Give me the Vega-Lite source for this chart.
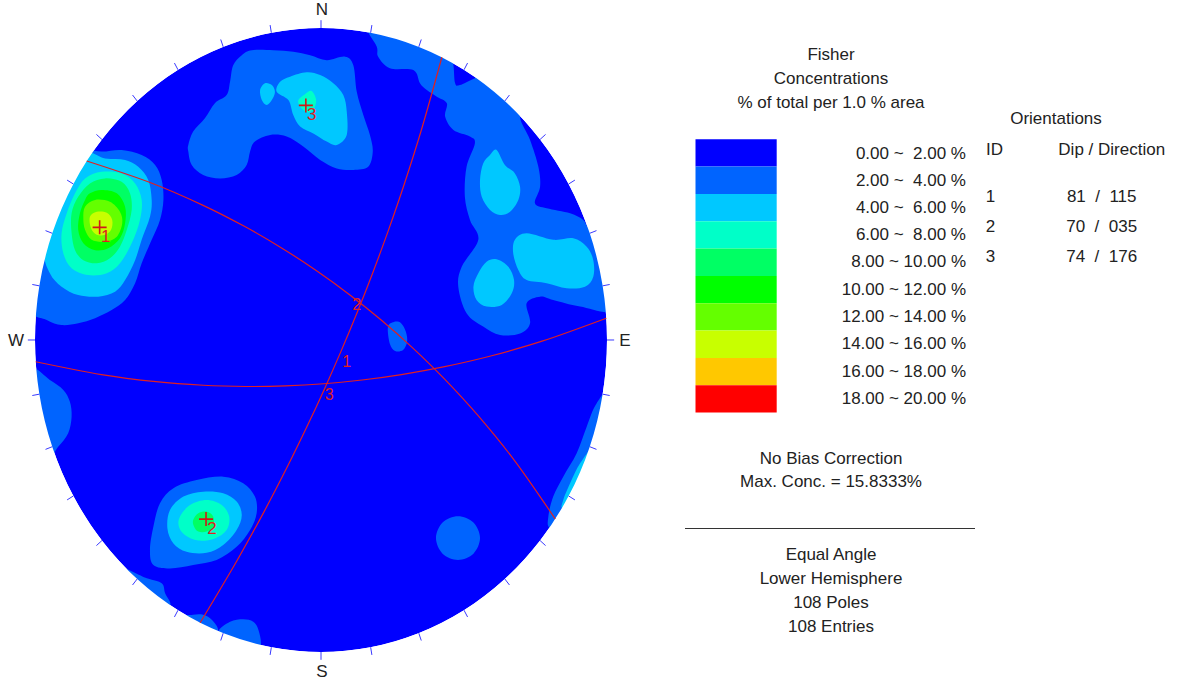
{
"$schema": "https://vega.github.io/schema/vega-lite/v6.json",
"padding": 0,
"background": "white",
"spacing": 0,
"config": {"view": {"stroke": null}, "text": {"font": "Liberation Sans"}},
"resolve": {"scale": {"x": "independent", "y": "independent", "fill": "independent"}},
"datasets": {
"rim": [
{"a":0,"x":0,"y":1,"x2":0,"y2":1.025},
{"a":10,"x":0.1736,"y":0.9848,"x2":0.1779,"y2":1.0094},
{"a":20,"x":0.342,"y":0.9397,"x2":0.3506,"y2":0.9632},
{"a":30,"x":0.5,"y":0.866,"x2":0.5125,"y2":0.8877},
{"a":40,"x":0.6428,"y":0.766,"x2":0.6589,"y2":0.7852},
{"a":50,"x":0.766,"y":0.6428,"x2":0.7852,"y2":0.6589},
{"a":60,"x":0.866,"y":0.5,"x2":0.8877,"y2":0.5125},
{"a":70,"x":0.9397,"y":0.342,"x2":0.9632,"y2":0.3506},
{"a":80,"x":0.9848,"y":0.1736,"x2":1.0094,"y2":0.1779},
{"a":90,"x":1,"y":0,"x2":1.025,"y2":0},
{"a":100,"x":0.9848,"y":-0.1736,"x2":1.0094,"y2":-0.1779},
{"a":110,"x":0.9397,"y":-0.342,"x2":0.9632,"y2":-0.3506},
{"a":120,"x":0.866,"y":-0.5,"x2":0.8877,"y2":-0.5125},
{"a":130,"x":0.766,"y":-0.6428,"x2":0.7852,"y2":-0.6589},
{"a":140,"x":0.6428,"y":-0.766,"x2":0.6589,"y2":-0.7852},
{"a":150,"x":0.5,"y":-0.866,"x2":0.5125,"y2":-0.8877},
{"a":160,"x":0.342,"y":-0.9397,"x2":0.3506,"y2":-0.9632},
{"a":170,"x":0.1736,"y":-0.9848,"x2":0.1779,"y2":-1.0094},
{"a":180,"x":0,"y":-1,"x2":0,"y2":-1.025},
{"a":190,"x":-0.1736,"y":-0.9848,"x2":-0.1779,"y2":-1.0094},
{"a":200,"x":-0.342,"y":-0.9397,"x2":-0.3506,"y2":-0.9632},
{"a":210,"x":-0.5,"y":-0.866,"x2":-0.5125,"y2":-0.8877},
{"a":220,"x":-0.6428,"y":-0.766,"x2":-0.6589,"y2":-0.7852},
{"a":230,"x":-0.766,"y":-0.6428,"x2":-0.7852,"y2":-0.6589},
{"a":240,"x":-0.866,"y":-0.5,"x2":-0.8877,"y2":-0.5125},
{"a":250,"x":-0.9397,"y":-0.342,"x2":-0.9632,"y2":-0.3506},
{"a":260,"x":-0.9848,"y":-0.1736,"x2":-1.0094,"y2":-0.1779},
{"a":270,"x":-1,"y":0,"x2":-1.025,"y2":0},
{"a":280,"x":-0.9848,"y":0.1736,"x2":-1.0094,"y2":0.1779},
{"a":290,"x":-0.9397,"y":0.342,"x2":-0.9632,"y2":0.3506},
{"a":300,"x":-0.866,"y":0.5,"x2":-0.8877,"y2":0.5125},
{"a":310,"x":-0.766,"y":0.6428,"x2":-0.7852,"y2":0.6589},
{"a":320,"x":-0.6428,"y":0.766,"x2":-0.6589,"y2":0.7852},
{"a":330,"x":-0.5,"y":0.866,"x2":-0.5125,"y2":0.8877},
{"a":340,"x":-0.342,"y":0.9397,"x2":-0.3506,"y2":0.9632},
{"a":350,"x":-0.1736,"y":0.9848,"x2":-0.1779,"y2":1.0094}
],
"mask": [
{"a":0,"x":0,"y":1.0641},{"a":10,"x":0.1857,"y":1.0479},{"a":20,"x":0.3659,"y":0.9999},{"a":30,"x":0.535,"y":0.9215},
{"a":40,"x":0.6877,"y":0.8151},{"a":50,"x":0.8195,"y":0.684},{"a":60,"x":0.9265,"y":0.5321},{"a":70,"x":1.0054,"y":0.3639},
{"a":80,"x":1.0536,"y":0.1847},{"a":90,"x":1.0699,"y":0},{"a":100,"x":1.0536,"y":-0.1847},{"a":110,"x":1.0054,"y":-0.3639},
{"a":120,"x":0.9265,"y":-0.5321},{"a":130,"x":0.8195,"y":-0.684},{"a":140,"x":0.6877,"y":-0.8151},{"a":150,"x":0.535,"y":-0.9215},
{"a":160,"x":0.3659,"y":-0.9999},{"a":170,"x":0.1857,"y":-1.0479},{"a":180,"x":0,"y":-1.0641},{"a":190,"x":-0.1857,"y":-1.0479},
{"a":200,"x":-0.3659,"y":-0.9999},{"a":210,"x":-0.535,"y":-0.9215},{"a":220,"x":-0.6877,"y":-0.8151},{"a":230,"x":-0.8195,"y":-0.684},
{"a":240,"x":-0.9265,"y":-0.5321},{"a":250,"x":-1.0054,"y":-0.3639},{"a":260,"x":-1.0536,"y":-0.1847},{"a":270,"x":-1.0699,"y":0},
{"a":280,"x":-1.0536,"y":0.1847},{"a":290,"x":-1.0054,"y":0.3639},{"a":300,"x":-0.9265,"y":0.5321},{"a":310,"x":-0.8195,"y":0.684},
{"a":320,"x":-0.6877,"y":0.8151},{"a":330,"x":-0.535,"y":0.9215},{"a":340,"x":-0.3659,"y":0.9999},{"a":350,"x":-0.1857,"y":1.0479}
],
"cont": [
{"p":"n1","l":1,"i":0,"x":-0.464,"y":0.625},{"p":"n1","l":1,"i":1,"x":-0.447,"y":0.668},{"p":"n1","l":1,"i":2,"x":-0.406,"y":0.711},
{"p":"n1","l":1,"i":3,"x":-0.371,"y":0.759},{"p":"n1","l":1,"i":4,"x":-0.33,"y":0.785},{"p":"n1","l":1,"i":5,"x":-0.318,"y":0.828},
{"p":"n1","l":1,"i":6,"x":-0.307,"y":0.881},{"p":"n1","l":1,"i":7,"x":-0.277,"y":0.913},{"p":"n1","l":1,"i":8,"x":-0.242,"y":0.929},
{"p":"n1","l":1,"i":9,"x":-0.167,"y":0.929},{"p":"n1","l":1,"i":10,"x":-0.097,"y":0.924},{"p":"n1","l":1,"i":11,"x":-0.038,"y":0.913},
{"p":"n1","l":1,"i":12,"x":0.02,"y":0.897},{"p":"n1","l":1,"i":13,"x":0.084,"y":0.908},{"p":"n1","l":1,"i":14,"x":0.113,"y":0.881},
{"p":"n1","l":1,"i":15,"x":0.125,"y":0.796},{"p":"n1","l":1,"i":16,"x":0.148,"y":0.721},{"p":"n1","l":1,"i":17,"x":0.171,"y":0.657},
{"p":"n1","l":1,"i":18,"x":0.181,"y":0.604},{"p":"n1","l":1,"i":19,"x":0.165,"y":0.555},{"p":"n1","l":1,"i":20,"x":0.113,"y":0.545},
{"p":"n1","l":1,"i":21,"x":0.055,"y":0.55},{"p":"n1","l":1,"i":22,"x":-0.003,"y":0.577},{"p":"n1","l":1,"i":23,"x":-0.062,"y":0.62},
{"p":"n1","l":1,"i":24,"x":-0.12,"y":0.652},{"p":"n1","l":1,"i":25,"x":-0.178,"y":0.657},{"p":"n1","l":1,"i":26,"x":-0.231,"y":0.636},
{"p":"n1","l":1,"i":27,"x":-0.248,"y":0.604},{"p":"n1","l":1,"i":28,"x":-0.26,"y":0.561},{"p":"n1","l":1,"i":29,"x":-0.295,"y":0.529},
{"p":"n1","l":1,"i":30,"x":-0.353,"y":0.518},{"p":"n1","l":1,"i":31,"x":-0.412,"y":0.529},{"p":"n1","l":1,"i":32,"x":-0.452,"y":0.561},
{"p":"n1","l":1,"i":33,"x":-0.464,"y":0.604},

{"p":"ne1","l":1,"i":0,"x":0.164,"y":1.01},{"p":"ne1","l":1,"i":1,"x":0.195,"y":0.94},{"p":"ne1","l":1,"i":2,"x":0.2,"y":0.908},
{"p":"ne1","l":1,"i":3,"x":0.241,"y":0.871},{"p":"ne1","l":1,"i":4,"x":0.323,"y":0.865},{"p":"ne1","l":1,"i":5,"x":0.346,"y":0.823},
{"p":"ne1","l":1,"i":6,"x":0.37,"y":0.801},{"p":"ne1","l":1,"i":7,"x":0.405,"y":0.78},{"p":"ne1","l":1,"i":8,"x":0.44,"y":0.759},
{"p":"ne1","l":1,"i":9,"x":0.434,"y":0.716},{"p":"ne1","l":1,"i":10,"x":0.463,"y":0.673},{"p":"ne1","l":1,"i":11,"x":0.521,"y":0.652},
{"p":"ne1","l":1,"i":12,"x":0.538,"y":0.63},{"p":"ne1","l":1,"i":13,"x":0.509,"y":0.555},{"p":"ne1","l":1,"i":14,"x":0.503,"y":0.459},
{"p":"ne1","l":1,"i":15,"x":0.521,"y":0.385},{"p":"ne1","l":1,"i":16,"x":0.55,"y":0.321},{"p":"ne1","l":1,"i":17,"x":0.492,"y":0.235},
{"p":"ne1","l":1,"i":18,"x":0.48,"y":0.171},{"p":"ne1","l":1,"i":19,"x":0.509,"y":0.086},{"p":"ne1","l":1,"i":20,"x":0.567,"y":0.043},
{"p":"ne1","l":1,"i":21,"x":0.626,"y":0.016},{"p":"ne1","l":1,"i":22,"x":0.696,"y":0.021},{"p":"ne1","l":1,"i":23,"x":0.731,"y":0.054},
{"p":"ne1","l":1,"i":24,"x":0.719,"y":0.118},{"p":"ne1","l":1,"i":25,"x":0.766,"y":0.139},{"p":"ne1","l":1,"i":26,"x":0.812,"y":0.128},
{"p":"ne1","l":1,"i":27,"x":0.906,"y":0.107},{"p":"ne1","l":1,"i":28,"x":1.028,"y":0.096},{"p":"ne1","l":1,"i":29,"x":1.063,"y":0.224},
{"p":"ne1","l":1,"i":30,"x":0.976,"y":0.369},{"p":"ne1","l":1,"i":31,"x":0.935,"y":0.363},{"p":"ne1","l":1,"i":32,"x":0.917,"y":0.385},
{"p":"ne1","l":1,"i":33,"x":0.871,"y":0.406},{"p":"ne1","l":1,"i":34,"x":0.789,"y":0.422},{"p":"ne1","l":1,"i":35,"x":0.748,"y":0.438},
{"p":"ne1","l":1,"i":36,"x":0.766,"y":0.491},{"p":"ne1","l":1,"i":37,"x":0.76,"y":0.555},{"p":"ne1","l":1,"i":38,"x":0.731,"y":0.641},
{"p":"ne1","l":1,"i":39,"x":0.696,"y":0.716},{"p":"ne1","l":1,"i":40,"x":0.731,"y":0.769},{"p":"ne1","l":1,"i":41,"x":0.608,"y":0.865},
{"p":"ne1","l":1,"i":42,"x":0.538,"y":0.839},{"p":"ne1","l":1,"i":43,"x":0.486,"y":0.817},{"p":"ne1","l":1,"i":44,"x":0.469,"y":0.823},
{"p":"ne1","l":1,"i":45,"x":0.463,"y":0.881},{"p":"ne1","l":1,"i":46,"x":0.451,"y":0.929},{"p":"ne1","l":1,"i":47,"x":0.311,"y":0.994},

{"p":"w1","l":1,"i":0,"x":-0.843,"y":0.609},{"p":"w1","l":1,"i":1,"x":-0.767,"y":0.604},{"p":"w1","l":1,"i":2,"x":-0.697,"y":0.609},
{"p":"w1","l":1,"i":3,"x":-0.627,"y":0.593},{"p":"w1","l":1,"i":4,"x":-0.58,"y":0.561},{"p":"w1","l":1,"i":5,"x":-0.557,"y":0.513},
{"p":"w1","l":1,"i":6,"x":-0.551,"y":0.449},{"p":"w1","l":1,"i":7,"x":-0.563,"y":0.385},{"p":"w1","l":1,"i":8,"x":-0.592,"y":0.321},
{"p":"w1","l":1,"i":9,"x":-0.627,"y":0.246},{"p":"w1","l":1,"i":10,"x":-0.65,"y":0.182},{"p":"w1","l":1,"i":11,"x":-0.685,"y":0.128},
{"p":"w1","l":1,"i":12,"x":-0.732,"y":0.096},{"p":"w1","l":1,"i":13,"x":-0.79,"y":0.07},{"p":"w1","l":1,"i":14,"x":-0.849,"y":0.054},
{"p":"w1","l":1,"i":15,"x":-0.907,"y":0.048},{"p":"w1","l":1,"i":16,"x":-0.959,"y":0.064},{"p":"w1","l":1,"i":17,"x":-1.024,"y":0.112},
{"p":"w1","l":1,"i":18,"x":-1.017,"y":0.353},{"p":"w1","l":1,"i":19,"x":-0.948,"y":0.561},

{"p":"s1","l":1,"i":0,"x":-0.563,"y":-0.523},{"p":"s1","l":1,"i":1,"x":-0.516,"y":-0.475},{"p":"s1","l":1,"i":2,"x":-0.435,"y":-0.449},
{"p":"s1","l":1,"i":3,"x":-0.342,"y":-0.438},{"p":"s1","l":1,"i":4,"x":-0.272,"y":-0.459},{"p":"s1","l":1,"i":5,"x":-0.231,"y":-0.502},
{"p":"s1","l":1,"i":6,"x":-0.225,"y":-0.555},{"p":"s1","l":1,"i":7,"x":-0.248,"y":-0.609},{"p":"s1","l":1,"i":8,"x":-0.295,"y":-0.663},
{"p":"s1","l":1,"i":9,"x":-0.365,"y":-0.705},{"p":"s1","l":1,"i":10,"x":-0.447,"y":-0.721},{"p":"s1","l":1,"i":11,"x":-0.528,"y":-0.732},
{"p":"s1","l":1,"i":12,"x":-0.586,"y":-0.721},{"p":"s1","l":1,"i":13,"x":-0.598,"y":-0.673},{"p":"s1","l":1,"i":14,"x":-0.586,"y":-0.598},

{"p":"sw","l":1,"i":0,"x":-1.017,"y":-0.096},{"p":"sw","l":1,"i":1,"x":-0.948,"y":-0.128},{"p":"sw","l":1,"i":2,"x":-0.901,"y":-0.16},
{"p":"sw","l":1,"i":3,"x":-0.878,"y":-0.198},{"p":"sw","l":1,"i":4,"x":-0.872,"y":-0.246},{"p":"sw","l":1,"i":5,"x":-0.884,"y":-0.299},
{"p":"sw","l":1,"i":6,"x":-0.919,"y":-0.342},{"p":"sw","l":1,"i":7,"x":-0.965,"y":-0.385},{"p":"sw","l":1,"i":8,"x":-1.035,"y":-0.256},

{"p":"bl","l":1,"i":0,"x":-0.71,"y":-0.731},{"p":"bl","l":1,"i":1,"x":-0.609,"y":-0.764},{"p":"bl","l":1,"i":2,"x":-0.557,"y":-0.78},
{"p":"bl","l":1,"i":3,"x":-0.545,"y":-0.812},{"p":"bl","l":1,"i":4,"x":-0.528,"y":-0.853},{"p":"bl","l":1,"i":5,"x":-0.598,"y":-0.865},

{"p":"b1","l":1,"i":0,"x":-0.476,"y":-0.891},{"p":"b1","l":1,"i":1,"x":-0.447,"y":-0.881},{"p":"b1","l":1,"i":2,"x":-0.412,"y":-0.881},
{"p":"b1","l":1,"i":3,"x":-0.382,"y":-0.897},{"p":"b1","l":1,"i":4,"x":-0.36,"y":-0.929},{"p":"b1","l":1,"i":5,"x":-0.388,"y":-0.946},

{"p":"b2","l":1,"i":0,"x":-0.36,"y":-0.939},{"p":"b2","l":1,"i":1,"x":-0.318,"y":-0.903},{"p":"b2","l":1,"i":2,"x":-0.272,"y":-0.895},
{"p":"b2","l":1,"i":3,"x":-0.237,"y":-0.903},{"p":"b2","l":1,"i":4,"x":-0.219,"y":-0.929},{"p":"b2","l":1,"i":5,"x":-0.21,"y":-0.978},
{"p":"b2","l":1,"i":6,"x":-0.231,"y":-1.01},{"p":"b2","l":1,"i":7,"x":-0.318,"y":-0.994},

{"p":"c1","l":1,"i":0,"x":0.234,"y":0.042},{"p":"c1","l":1,"i":1,"x":0.255,"y":0.058},{"p":"c1","l":1,"i":2,"x":0.28,"y":0.054},
{"p":"c1","l":1,"i":3,"x":0.297,"y":0.026},{"p":"c1","l":1,"i":4,"x":0.301,"y":-0.006},{"p":"c1","l":1,"i":5,"x":0.287,"y":-0.032},
{"p":"c1","l":1,"i":6,"x":0.259,"y":-0.035},{"p":"c1","l":1,"i":7,"x":0.241,"y":-0.013},

{"p":"sec","l":1,"i":0,"x":0.556,"y":-0.635},{"p":"sec","l":1,"i":1,"x":0.533,"y":-0.585},{"p":"sec","l":1,"i":2,"x":0.479,"y":-0.565},
{"p":"sec","l":1,"i":3,"x":0.425,"y":-0.585},{"p":"sec","l":1,"i":4,"x":0.402,"y":-0.635},{"p":"sec","l":1,"i":5,"x":0.425,"y":-0.685},
{"p":"sec","l":1,"i":6,"x":0.479,"y":-0.705},{"p":"sec","l":1,"i":7,"x":0.533,"y":-0.685},

{"p":"se1","l":1,"i":0,"x":1.028,"y":-0.144},{"p":"se1","l":1,"i":1,"x":0.964,"y":-0.203},{"p":"se1","l":1,"i":2,"x":0.929,"y":-0.278},
{"p":"se1","l":1,"i":3,"x":0.894,"y":-0.363},{"p":"se1","l":1,"i":4,"x":0.847,"y":-0.438},{"p":"se1","l":1,"i":5,"x":0.812,"y":-0.502},
{"p":"se1","l":1,"i":6,"x":0.795,"y":-0.566},{"p":"se1","l":1,"i":7,"x":0.801,"y":-0.603},{"p":"se1","l":1,"i":8,"x":0.871,"y":-0.609},
{"p":"se1","l":1,"i":9,"x":1.01,"y":-0.353},

{"p":"n2a","l":2,"i":0,"x":-0.143,"y":0.828},{"p":"n2a","l":2,"i":1,"x":-0.108,"y":0.844},{"p":"n2a","l":2,"i":2,"x":-0.05,"y":0.858},
{"p":"n2a","l":2,"i":3,"x":-0.003,"y":0.849},{"p":"n2a","l":2,"i":4,"x":0.043,"y":0.823},{"p":"n2a","l":2,"i":5,"x":0.078,"y":0.785},
{"p":"n2a","l":2,"i":6,"x":0.09,"y":0.732},{"p":"n2a","l":2,"i":7,"x":0.09,"y":0.657},{"p":"n2a","l":2,"i":8,"x":0.055,"y":0.625},
{"p":"n2a","l":2,"i":9,"x":0.02,"y":0.636},{"p":"n2a","l":2,"i":10,"x":-0.027,"y":0.662},{"p":"n2a","l":2,"i":11,"x":-0.073,"y":0.684},
{"p":"n2a","l":2,"i":12,"x":-0.097,"y":0.721},{"p":"n2a","l":2,"i":13,"x":-0.114,"y":0.769},{"p":"n2a","l":2,"i":14,"x":-0.155,"y":0.796},

{"p":"n2b","l":2,"i":0,"x":-0.196,"y":0.823},{"p":"n2b","l":2,"i":1,"x":-0.172,"y":0.817},{"p":"n2b","l":2,"i":2,"x":-0.161,"y":0.795},
{"p":"n2b","l":2,"i":3,"x":-0.172,"y":0.769},{"p":"n2b","l":2,"i":4,"x":-0.19,"y":0.753},{"p":"n2b","l":2,"i":5,"x":-0.207,"y":0.769},
{"p":"n2b","l":2,"i":6,"x":-0.213,"y":0.801},

{"p":"ne2a","l":2,"i":0,"x":0.614,"y":0.609},{"p":"ne2a","l":2,"i":1,"x":0.643,"y":0.561},{"p":"ne2a","l":2,"i":2,"x":0.678,"y":0.534},
{"p":"ne2a","l":2,"i":3,"x":0.696,"y":0.491},{"p":"ne2a","l":2,"i":4,"x":0.69,"y":0.449},{"p":"ne2a","l":2,"i":5,"x":0.661,"y":0.411},
{"p":"ne2a","l":2,"i":6,"x":0.626,"y":0.401},{"p":"ne2a","l":2,"i":7,"x":0.591,"y":0.417},{"p":"ne2a","l":2,"i":8,"x":0.562,"y":0.459},
{"p":"ne2a","l":2,"i":9,"x":0.556,"y":0.513},{"p":"ne2a","l":2,"i":10,"x":0.567,"y":0.566},{"p":"ne2a","l":2,"i":11,"x":0.591,"y":0.593},

{"p":"ne2b","l":2,"i":0,"x":0.678,"y":0.321},{"p":"ne2b","l":2,"i":1,"x":0.719,"y":0.342},{"p":"ne2b","l":2,"i":2,"x":0.812,"y":0.321},
{"p":"ne2b","l":2,"i":3,"x":0.882,"y":0.326},{"p":"ne2b","l":2,"i":4,"x":0.929,"y":0.299},{"p":"ne2b","l":2,"i":5,"x":0.952,"y":0.256},
{"p":"ne2b","l":2,"i":6,"x":0.952,"y":0.203},{"p":"ne2b","l":2,"i":7,"x":0.923,"y":0.171},{"p":"ne2b","l":2,"i":8,"x":0.859,"y":0.166},
{"p":"ne2b","l":2,"i":9,"x":0.789,"y":0.182},{"p":"ne2b","l":2,"i":10,"x":0.719,"y":0.192},{"p":"ne2b","l":2,"i":11,"x":0.69,"y":0.224},
{"p":"ne2b","l":2,"i":12,"x":0.672,"y":0.278},

{"p":"ne2c","l":2,"i":0,"x":0.579,"y":0.251},{"p":"ne2c","l":2,"i":1,"x":0.614,"y":0.259},{"p":"ne2c","l":2,"i":2,"x":0.655,"y":0.235},
{"p":"ne2c","l":2,"i":3,"x":0.675,"y":0.192},{"p":"ne2c","l":2,"i":4,"x":0.667,"y":0.15},{"p":"ne2c","l":2,"i":5,"x":0.632,"y":0.112},
{"p":"ne2c","l":2,"i":6,"x":0.579,"y":0.107},{"p":"ne2c","l":2,"i":7,"x":0.544,"y":0.128},{"p":"ne2c","l":2,"i":8,"x":0.533,"y":0.171},
{"p":"ne2c","l":2,"i":9,"x":0.55,"y":0.214},

{"p":"w2","l":2,"i":0,"x":-0.836,"y":0.593},{"p":"w2","l":2,"i":1,"x":-0.755,"y":0.582},{"p":"w2","l":2,"i":2,"x":-0.685,"y":0.577},
{"p":"w2","l":2,"i":3,"x":-0.639,"y":0.555},{"p":"w2","l":2,"i":4,"x":-0.604,"y":0.513},{"p":"w2","l":2,"i":5,"x":-0.592,"y":0.449},
{"p":"w2","l":2,"i":6,"x":-0.598,"y":0.395},{"p":"w2","l":2,"i":7,"x":-0.627,"y":0.321},{"p":"w2","l":2,"i":8,"x":-0.65,"y":0.256},
{"p":"w2","l":2,"i":9,"x":-0.685,"y":0.192},{"p":"w2","l":2,"i":10,"x":-0.72,"y":0.155},{"p":"w2","l":2,"i":11,"x":-0.779,"y":0.139},
{"p":"w2","l":2,"i":12,"x":-0.849,"y":0.144},{"p":"w2","l":2,"i":13,"x":-0.907,"y":0.171},{"p":"w2","l":2,"i":14,"x":-0.948,"y":0.214},
{"p":"w2","l":2,"i":15,"x":-0.969,"y":0.288},{"p":"w2","l":2,"i":16,"x":-0.948,"y":0.449},

{"p":"s2","l":2,"i":0,"x":-0.528,"y":-0.545},{"p":"s2","l":2,"i":1,"x":-0.481,"y":-0.502},{"p":"s2","l":2,"i":2,"x":-0.412,"y":-0.486},
{"p":"s2","l":2,"i":3,"x":-0.342,"y":-0.491},{"p":"s2","l":2,"i":4,"x":-0.295,"y":-0.518},{"p":"s2","l":2,"i":5,"x":-0.277,"y":-0.561},
{"p":"s2","l":2,"i":6,"x":-0.295,"y":-0.609},{"p":"s2","l":2,"i":7,"x":-0.342,"y":-0.657},{"p":"s2","l":2,"i":8,"x":-0.4,"y":-0.682},
{"p":"s2","l":2,"i":9,"x":-0.47,"y":-0.679},{"p":"s2","l":2,"i":10,"x":-0.516,"y":-0.652},{"p":"s2","l":2,"i":11,"x":-0.537,"y":-0.604},

{"p":"se2","l":2,"i":0,"x":0.948,"y":-0.353},{"p":"se2","l":2,"i":1,"x":0.906,"y":-0.395},{"p":"se2","l":2,"i":2,"x":0.871,"y":-0.459},
{"p":"se2","l":2,"i":3,"x":0.847,"y":-0.513},{"p":"se2","l":2,"i":4,"x":0.846,"y":-0.538},{"p":"se2","l":2,"i":5,"x":0.906,"y":-0.497},

{"p":"n3","l":3,"i":0,"x":-0.079,"y":0.769},{"p":"n3","l":3,"i":1,"x":-0.056,"y":0.788},{"p":"n3","l":3,"i":2,"x":-0.033,"y":0.798},
{"p":"n3","l":3,"i":3,"x":-0.017,"y":0.769},{"p":"n3","l":3,"i":4,"x":-0.027,"y":0.737},{"p":"n3","l":3,"i":5,"x":-0.05,"y":0.73},
{"p":"n3","l":3,"i":6,"x":-0.073,"y":0.748},

{"p":"w3","l":3,"i":0,"x":-0.825,"y":0.518},{"p":"w3","l":3,"i":1,"x":-0.767,"y":0.539},{"p":"w3","l":3,"i":2,"x":-0.697,"y":0.534},
{"p":"w3","l":3,"i":3,"x":-0.65,"y":0.502},{"p":"w3","l":3,"i":4,"x":-0.627,"y":0.449},{"p":"w3","l":3,"i":5,"x":-0.633,"y":0.385},
{"p":"w3","l":3,"i":6,"x":-0.662,"y":0.31},{"p":"w3","l":3,"i":7,"x":-0.703,"y":0.246},{"p":"w3","l":3,"i":8,"x":-0.749,"y":0.214},
{"p":"w3","l":3,"i":9,"x":-0.814,"y":0.208},{"p":"w3","l":3,"i":10,"x":-0.872,"y":0.23},{"p":"w3","l":3,"i":11,"x":-0.901,"y":0.278},
{"p":"w3","l":3,"i":12,"x":-0.907,"y":0.342},{"p":"w3","l":3,"i":13,"x":-0.889,"y":0.406},{"p":"w3","l":3,"i":14,"x":-0.86,"y":0.47},

{"p":"s3","l":3,"i":0,"x":-0.493,"y":-0.566},{"p":"s3","l":3,"i":1,"x":-0.458,"y":-0.529},{"p":"s3","l":3,"i":2,"x":-0.4,"y":-0.513},
{"p":"s3","l":3,"i":3,"x":-0.347,"y":-0.529},{"p":"s3","l":3,"i":4,"x":-0.321,"y":-0.566},{"p":"s3","l":3,"i":5,"x":-0.33,"y":-0.609},
{"p":"s3","l":3,"i":6,"x":-0.371,"y":-0.636},{"p":"s3","l":3,"i":7,"x":-0.429,"y":-0.643},{"p":"s3","l":3,"i":8,"x":-0.476,"y":-0.625},
{"p":"s3","l":3,"i":9,"x":-0.497,"y":-0.598},

{"p":"w4","l":4,"i":0,"x":-0.808,"y":0.502},{"p":"w4","l":4,"i":1,"x":-0.755,"y":0.518},{"p":"w4","l":4,"i":2,"x":-0.697,"y":0.507},
{"p":"w4","l":4,"i":3,"x":-0.668,"y":0.47},{"p":"w4","l":4,"i":4,"x":-0.662,"y":0.417},{"p":"w4","l":4,"i":5,"x":-0.679,"y":0.353},
{"p":"w4","l":4,"i":6,"x":-0.703,"y":0.299},{"p":"w4","l":4,"i":7,"x":-0.738,"y":0.262},{"p":"w4","l":4,"i":8,"x":-0.784,"y":0.246},
{"p":"w4","l":4,"i":9,"x":-0.831,"y":0.256},{"p":"w4","l":4,"i":10,"x":-0.86,"y":0.288},{"p":"w4","l":4,"i":11,"x":-0.872,"y":0.342},
{"p":"w4","l":4,"i":12,"x":-0.872,"y":0.406},{"p":"w4","l":4,"i":13,"x":-0.849,"y":0.459},

{"p":"s4","l":4,"i":0,"x":-0.447,"y":-0.577},{"p":"s4","l":4,"i":1,"x":-0.429,"y":-0.555},{"p":"s4","l":4,"i":2,"x":-0.4,"y":-0.55},
{"p":"s4","l":4,"i":3,"x":-0.377,"y":-0.566},{"p":"s4","l":4,"i":4,"x":-0.377,"y":-0.598},{"p":"s4","l":4,"i":5,"x":-0.4,"y":-0.614},
{"p":"s4","l":4,"i":6,"x":-0.429,"y":-0.614},{"p":"s4","l":4,"i":7,"x":-0.444,"y":-0.598},

{"p":"w5","l":5,"i":0,"x":-0.808,"y":0.47},{"p":"w5","l":5,"i":1,"x":-0.767,"y":0.481},{"p":"w5","l":5,"i":2,"x":-0.714,"y":0.47},
{"p":"w5","l":5,"i":3,"x":-0.685,"y":0.427},{"p":"w5","l":5,"i":4,"x":-0.685,"y":0.374},{"p":"w5","l":5,"i":5,"x":-0.703,"y":0.326},
{"p":"w5","l":5,"i":6,"x":-0.744,"y":0.294},{"p":"w5","l":5,"i":7,"x":-0.79,"y":0.288},{"p":"w5","l":5,"i":8,"x":-0.831,"y":0.31},
{"p":"w5","l":5,"i":9,"x":-0.849,"y":0.353},{"p":"w5","l":5,"i":10,"x":-0.843,"y":0.406},{"p":"w5","l":5,"i":11,"x":-0.825,"y":0.449},

{"p":"w6","l":6,"i":0,"x":-0.825,"y":0.427},{"p":"w6","l":6,"i":1,"x":-0.79,"y":0.449},{"p":"w6","l":6,"i":2,"x":-0.738,"y":0.443},
{"p":"w6","l":6,"i":3,"x":-0.703,"y":0.411},{"p":"w6","l":6,"i":4,"x":-0.695,"y":0.374},{"p":"w6","l":6,"i":5,"x":-0.714,"y":0.331},
{"p":"w6","l":6,"i":6,"x":-0.755,"y":0.315},{"p":"w6","l":6,"i":7,"x":-0.802,"y":0.321},{"p":"w6","l":6,"i":8,"x":-0.825,"y":0.353},
{"p":"w6","l":6,"i":9,"x":-0.831,"y":0.39},

{"p":"w7","l":7,"i":0,"x":-0.808,"y":0.395},{"p":"w7","l":7,"i":1,"x":-0.784,"y":0.411},{"p":"w7","l":7,"i":2,"x":-0.749,"y":0.408},
{"p":"w7","l":7,"i":3,"x":-0.73,"y":0.385},{"p":"w7","l":7,"i":4,"x":-0.734,"y":0.353},{"p":"w7","l":7,"i":5,"x":-0.755,"y":0.337},
{"p":"w7","l":7,"i":6,"x":-0.784,"y":0.337},{"p":"w7","l":7,"i":7,"x":-0.804,"y":0.358}
],
"gc": [
{"g":1,"i":0,"x":0.4226,"y":0.9063},{"g":1,"i":1,"x":0.3543,"y":0.6836},{"g":1,"i":2,"x":0.2925,"y":0.5033},{"g":1,"i":3,"x":0.235,"y":0.3499},
{"g":1,"i":4,"x":0.1801,"y":0.2134},{"g":1,"i":5,"x":0.1261,"y":0.0874},{"g":1,"i":6,"x":0.0713,"y":-0.0333},{"g":1,"i":7,"x":0.0141,"y":-0.1527},
{"g":1,"i":8,"x":-0.0477,"y":-0.2751},{"g":1,"i":9,"x":-0.1169,"y":-0.4049},{"g":1,"i":10,"x":-0.1975,"y":-0.5476},{"g":1,"i":11,"x":-0.2959,"y":-0.7108},
{"g":1,"i":12,"x":-0.4226,"y":-0.9063},
{"g":2,"i":0,"x":-0.8192,"y":0.5736},{"g":2,"i":1,"x":-0.5956,"y":0.504},{"g":2,"i":2,"x":-0.4159,"y":0.4332},{"g":2,"i":3,"x":-0.2647,"y":0.3627},
{"g":2,"i":4,"x":-0.1322,"y":0.2919},{"g":2,"i":5,"x":-0.0118,"y":0.2196},{"g":2,"i":6,"x":0.1011,"y":0.1445},{"g":2,"i":7,"x":0.2105,"y":0.0641},
{"g":2,"i":8,"x":0.3195,"y":-0.0243},{"g":2,"i":9,"x":0.4314,"y":-0.1247},{"g":2,"i":10,"x":0.5494,"y":-0.2426},{"g":2,"i":11,"x":0.6774,"y":-0.3874},
{"g":2,"i":12,"x":0.8192,"y":-0.5736},
{"g":3,"i":0,"x":0.9976,"y":0.0698},{"g":3,"i":1,"x":0.7756,"y":-0.003},{"g":3,"i":2,"x":0.5899,"y":-0.0521},{"g":3,"i":3,"x":0.4281,"y":-0.0863},
{"g":3,"i":4,"x":0.2813,"y":-0.1109},{"g":3,"i":5,"x":0.1435,"y":-0.1283},{"g":3,"i":6,"x":0.0098,"y":-0.1402},{"g":3,"i":7,"x":-0.1243,"y":-0.1471},
{"g":3,"i":8,"x":-0.2631,"y":-0.149},{"g":3,"i":9,"x":-0.4119,"y":-0.1451},{"g":3,"i":10,"x":-0.577,"y":-0.1337},{"g":3,"i":11,"x":-0.7676,"y":-0.1109},
{"g":3,"i":12,"x":-0.9976,"y":-0.0698}
],
"poles": [
{"id":"1","x":-0.774,"y":0.361},
{"id":"2","x":-0.402,"y":-0.574},
{"id":"3","x":-0.053,"y":0.752}
],
"diplab": [
{"id":"2","x":0.125,"y":0.111},
{"id":"1","x":0.09,"y":-0.07},
{"id":"3","x":0.029,"y":-0.176}
],
"dirs": [
{"t":"N","x":0.003,"y":1.058},
{"t":"S","x":0.003,"y":-1.064},
{"t":"W","x":-1.066,"y":-0.003},
{"t":"E","x":1.063,"y":-0.003}
],
"bands": [
{"l":0,"label":"0.00 ~\u00a0 2.00 %","y0":139.3,"y1":166.6,"ly":154,"x0":45.5,"x1":126.7,"lx":316},
{"l":1,"label":"2.00 ~\u00a0 4.00 %","y0":166.6,"y1":194,"ly":180.5,"x0":45.5,"x1":126.7,"lx":316},
{"l":2,"label":"4.00 ~\u00a0 6.00 %","y0":194,"y1":221.3,"ly":207.5,"x0":45.5,"x1":126.7,"lx":316},
{"l":3,"label":"6.00 ~\u00a0 8.00 %","y0":221.3,"y1":248.6,"ly":235,"x0":45.5,"x1":126.7,"lx":316},
{"l":4,"label":"8.00 ~ 10.00 %","y0":248.6,"y1":276,"ly":262.3,"x0":45.5,"x1":126.7,"lx":316},
{"l":5,"label":"10.00 ~ 12.00 %","y0":276,"y1":303.3,"ly":289.5,"x0":45.5,"x1":126.7,"lx":316},
{"l":6,"label":"12.00 ~ 14.00 %","y0":303.3,"y1":330.6,"ly":316.8,"x0":45.5,"x1":126.7,"lx":316},
{"l":7,"label":"14.00 ~ 16.00 %","y0":330.6,"y1":358,"ly":344,"x0":45.5,"x1":126.7,"lx":316},
{"l":8,"label":"16.00 ~ 18.00 %","y0":358,"y1":385.3,"ly":371.6,"x0":45.5,"x1":126.7,"lx":316},
{"l":9,"label":"18.00 ~ 20.00 %","y0":385.3,"y1":412.6,"ly":399,"x0":45.5,"x1":126.7,"lx":316}
],
"notes": [
{"t":"Fisher","x":181,"y":55},
{"t":"Concentrations","x":181,"y":79},
{"t":"% of total per 1.0 % area","x":181,"y":103},
{"t":"No Bias Correction","x":181,"y":458.5},
{"t":"Max. Conc. = 15.8333%","x":181,"y":482},
{"t":"Equal Angle","x":181,"y":555},
{"t":"Lower Hemisphere","x":181,"y":579},
{"t":"108 Poles","x":181,"y":603},
{"t":"108 Entries","x":181,"y":627},
{"t":"Orientations","x":406,"y":119},
{"t":"ID","x":344.5,"y":149.5},
{"t":"Dip / Direction","x":461.7,"y":149.5},
{"t":"1","x":340.5,"y":197},
{"t":"81\u00a0 /\u00a0 115","x":451.7,"y":197},
{"t":"2","x":340.5,"y":227},
{"t":"70\u00a0 /\u00a0 035","x":451.7,"y":227},
{"t":"3","x":340.5,"y":256.5},
{"t":"74\u00a0 /\u00a0 176","x":451.7,"y":256.5}
],
"sep": [{"x":35,"x2":325,"y":528.5}]
},
"hconcat": [
{
"width": 650,
"height": 689,
"encoding": {
"x": {"field": "x", "type": "quantitative", "axis": null, "scale": {"domain": [-1.12238, 1.15035], "nice": false, "zero": false}},
"y": {"field": "y", "type": "quantitative", "axis": null, "scale": {"domain": [-1.11859, 1.08974], "nice": false, "zero": false}}
},
"layer": [
{"data": {"name": "rim"}, "mark": {"type": "line", "interpolate": "cardinal-closed", "fill": "#0000ff", "strokeWidth": 0}, "encoding": {"order": {"field": "a", "type": "quantitative"}}},
{"data": {"name": "cont"}, "transform": [{"filter": "datum.l == 1"}], "mark": {"type": "line", "interpolate": "cardinal-closed", "strokeWidth": 0, "clip": true}, "encoding": {"detail": {"field": "p"}, "order": {"field": "i", "type": "quantitative"}, "fill": {"field": "l", "type": "ordinal", "legend": null, "scale": {"domain": [0,1,2,3,4,5,6,7,8,9], "range": ["#0000ff","#0064ff","#00c8ff","#00ffc8","#00ff64","#00ff00","#64ff00","#c8ff00","#ffc800","#ff0000"]}}}},
{"data": {"name": "cont"}, "transform": [{"filter": "datum.l == 2"}], "mark": {"type": "line", "interpolate": "cardinal-closed", "strokeWidth": 0, "clip": true}, "encoding": {"detail": {"field": "p"}, "order": {"field": "i", "type": "quantitative"}, "fill": {"field": "l", "type": "ordinal", "legend": null, "scale": {"domain": [0,1,2,3,4,5,6,7,8,9], "range": ["#0000ff","#0064ff","#00c8ff","#00ffc8","#00ff64","#00ff00","#64ff00","#c8ff00","#ffc800","#ff0000"]}}}},
{"data": {"name": "cont"}, "transform": [{"filter": "datum.l == 3"}], "mark": {"type": "line", "interpolate": "cardinal-closed", "strokeWidth": 0, "clip": true}, "encoding": {"detail": {"field": "p"}, "order": {"field": "i", "type": "quantitative"}, "fill": {"field": "l", "type": "ordinal", "legend": null, "scale": {"domain": [0,1,2,3,4,5,6,7,8,9], "range": ["#0000ff","#0064ff","#00c8ff","#00ffc8","#00ff64","#00ff00","#64ff00","#c8ff00","#ffc800","#ff0000"]}}}},
{"data": {"name": "cont"}, "transform": [{"filter": "datum.l == 4"}], "mark": {"type": "line", "interpolate": "cardinal-closed", "strokeWidth": 0, "clip": true}, "encoding": {"detail": {"field": "p"}, "order": {"field": "i", "type": "quantitative"}, "fill": {"field": "l", "type": "ordinal", "legend": null, "scale": {"domain": [0,1,2,3,4,5,6,7,8,9], "range": ["#0000ff","#0064ff","#00c8ff","#00ffc8","#00ff64","#00ff00","#64ff00","#c8ff00","#ffc800","#ff0000"]}}}},
{"data": {"name": "cont"}, "transform": [{"filter": "datum.l == 5"}], "mark": {"type": "line", "interpolate": "cardinal-closed", "strokeWidth": 0, "clip": true}, "encoding": {"detail": {"field": "p"}, "order": {"field": "i", "type": "quantitative"}, "fill": {"field": "l", "type": "ordinal", "legend": null, "scale": {"domain": [0,1,2,3,4,5,6,7,8,9], "range": ["#0000ff","#0064ff","#00c8ff","#00ffc8","#00ff64","#00ff00","#64ff00","#c8ff00","#ffc800","#ff0000"]}}}},
{"data": {"name": "cont"}, "transform": [{"filter": "datum.l == 6"}], "mark": {"type": "line", "interpolate": "cardinal-closed", "strokeWidth": 0, "clip": true}, "encoding": {"detail": {"field": "p"}, "order": {"field": "i", "type": "quantitative"}, "fill": {"field": "l", "type": "ordinal", "legend": null, "scale": {"domain": [0,1,2,3,4,5,6,7,8,9], "range": ["#0000ff","#0064ff","#00c8ff","#00ffc8","#00ff64","#00ff00","#64ff00","#c8ff00","#ffc800","#ff0000"]}}}},
{"data": {"name": "cont"}, "transform": [{"filter": "datum.l == 7"}], "mark": {"type": "line", "interpolate": "cardinal-closed", "strokeWidth": 0, "clip": true}, "encoding": {"detail": {"field": "p"}, "order": {"field": "i", "type": "quantitative"}, "fill": {"field": "l", "type": "ordinal", "legend": null, "scale": {"domain": [0,1,2,3,4,5,6,7,8,9], "range": ["#0000ff","#0064ff","#00c8ff","#00ffc8","#00ff64","#00ff00","#64ff00","#c8ff00","#ffc800","#ff0000"]}}}},
{"data": {"name": "mask"}, "mark": {"type": "line", "interpolate": "cardinal-closed", "stroke": "white", "strokeWidth": 40, "strokeJoin": "round", "clip": true}, "encoding": {"order": {"field": "a", "type": "quantitative"}}},
{"data": {"name": "rim"}, "mark": {"type": "rule", "stroke": "#3a3aff", "strokeWidth": 1}, "encoding": {"x2": {"field": "x2"}, "y2": {"field": "y2"}}},
{"data": {"name": "gc"}, "mark": {"type": "line", "interpolate": "cardinal", "stroke": "#e02020", "strokeWidth": 1.2}, "encoding": {"detail": {"field": "g"}, "order": {"field": "i", "type": "quantitative"}}},
{"data": {"name": "poles"}, "mark": {"type": "point", "shape": "M-1,0H1M0,-1V1", "size": 196, "filled": false, "stroke": "#d01818", "strokeWidth": 1.6, "opacity": 1}},
{"data": {"name": "poles"}, "mark": {"type": "text", "fill": "#e02020", "fontSize": 17, "dx": 6, "dy": 10}, "encoding": {"text": {"field": "id"}}},
{"data": {"name": "diplab"}, "mark": {"type": "text", "fill": "#e02020", "fontSize": 16}, "encoding": {"text": {"field": "id"}}},
{"data": {"name": "dirs"}, "mark": {"type": "text", "fill": "#222222", "fontSize": 17}, "encoding": {"text": {"field": "t"}}}
]
},
{
"width": 534,
"height": 689,
"layer": [
{"data": {"name": "bands"}, "mark": {"type": "rect"}, "encoding": {
"x": {"field": "x0", "type": "quantitative", "axis": null, "scale": {"domain": [0, 534], "nice": false}},
"x2": {"field": "x1"},
"y": {"field": "y0", "type": "quantitative", "axis": null, "scale": {"domain": [0, 689], "nice": false, "reverse": true}},
"y2": {"field": "y1"},
"fill": {"field": "l", "type": "ordinal", "legend": null, "scale": {"domain": [0,1,2,3,4,5,6,7,8,9], "range": ["#0000ff","#0064ff","#00c8ff","#00ffc8","#00ff64","#00ff00","#64ff00","#c8ff00","#ffc800","#ff0000"]}}}},
{"data": {"name": "bands"}, "mark": {"type": "text", "align": "right", "baseline": "middle", "fontSize": 17, "fill": "#222222"}, "encoding": {
"x": {"field": "lx", "type": "quantitative", "axis": null, "scale": {"domain": [0, 534], "nice": false}},
"y": {"field": "ly", "type": "quantitative", "axis": null, "scale": {"domain": [0, 689], "nice": false, "reverse": true}},
"text": {"field": "label"}}},
{"data": {"name": "notes"}, "mark": {"type": "text", "align": "center", "baseline": "middle", "fontSize": 17, "fill": "#222222"}, "encoding": {
"x": {"field": "x", "type": "quantitative", "axis": null, "scale": {"domain": [0, 534], "nice": false}},
"y": {"field": "y", "type": "quantitative", "axis": null, "scale": {"domain": [0, 689], "nice": false, "reverse": true}},
"text": {"field": "t"}}},
{"data": {"name": "sep"}, "mark": {"type": "rule", "stroke": "#333333", "strokeWidth": 1}, "encoding": {
"x": {"field": "x", "type": "quantitative", "axis": null, "scale": {"domain": [0, 534], "nice": false}},
"x2": {"field": "x2"},
"y": {"field": "y", "type": "quantitative", "axis": null, "scale": {"domain": [0, 689], "nice": false, "reverse": true}}}}
]
}
]
}
